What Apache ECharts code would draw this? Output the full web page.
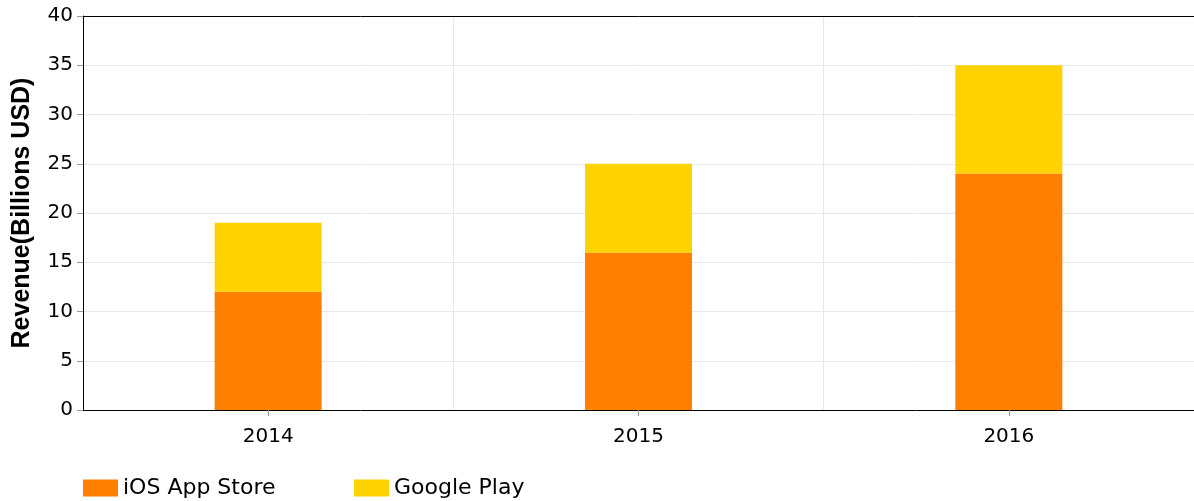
<!DOCTYPE html>
<html>
<head>
<meta charset="utf-8">
<script src="https://cdn.jsdelivr.net/npm/echarts@6/dist/echarts.min.js"></script>
<style>html,body{margin:0;padding:0;background:#fff}#c{width:1194px;height:501px}</style>
</head>
<body>
<div id="c"></div>
<script>
const categories = ['2014', '2015', '2016'];
const iosValues = [12, 16, 24];
const googleValues = [7, 9, 11];
const seriesNames = ['iOS App Store', 'Google Play'];
const yTicks = { min: 0, max: 40, interval: 5 };

const font = 'DejaVu Sans';
const chart = echarts.init(document.getElementById('c'), null, { renderer: 'canvas' });
chart.setOption({
  animation: false,
  textStyle: { fontFamily: font },
  grid: { left: 83, width: 1115, top: 16, bottom: 91, containLabel: false },
  legend: [
    { data: [seriesNames[0]], left: 78, top: 472, itemWidth: 35, itemHeight: 17, itemGap: 0,
      textStyle: { fontFamily: font, fontSize: 22, color: '#000' }, icon: 'rect' },
    { data: [seriesNames[1]], left: 349, top: 472, itemWidth: 35, itemHeight: 17, itemGap: 0,
      textStyle: { fontFamily: font, fontSize: 22, color: '#000' }, icon: 'rect' }
  ],
  xAxis: [
    {
      type: 'category', data: categories, position: 'bottom',
      axisLine: { show: true, lineStyle: { color: '#000', width: 1 } },
      axisTick: { show: true, alignWithLabel: true, length: 6, lineStyle: { color: '#999' } },
      axisLabel: { fontFamily: font, fontSize: 20, color: '#000', margin: 17 },
      splitLine: { show: true, lineStyle: { color: '#e8e8e8' } }
    },
    {
      type: 'category', data: categories, position: 'top',
      axisLine: { show: true, lineStyle: { color: '#000', width: 1 } },
      axisTick: { show: false }, axisLabel: { show: false }, splitLine: { show: false }
    }
  ],
  yAxis: {
    type: 'value', min: yTicks.min, max: yTicks.max, interval: yTicks.interval,
    name: 'Revenue(Billions USD)', nameLocation: 'middle', nameGap: 48,
    nameTextStyle: { fontFamily: 'Liberation Sans', fontSize: 25, fontWeight: 'bold', color: '#000' },
    axisLine: { show: true, lineStyle: { color: '#000', width: 1 } },
    axisTick: { show: true, length: 6, lineStyle: { color: '#999' } },
    axisLabel: { fontFamily: font, fontSize: 20, color: '#000', margin: 10 },
    splitLine: { show: true, lineStyle: { color: '#e8e8e8' } }
  },
  series: [
    { name: seriesNames[0], type: 'bar', stack: 'total', data: iosValues, barWidth: 107,
      itemStyle: { color: '#FF8000' } },
    { name: seriesNames[1], type: 'bar', stack: 'total', data: googleValues, barWidth: 107,
      itemStyle: { color: '#FFD300' } }
  ]
});
</script>
</body>
</html>
